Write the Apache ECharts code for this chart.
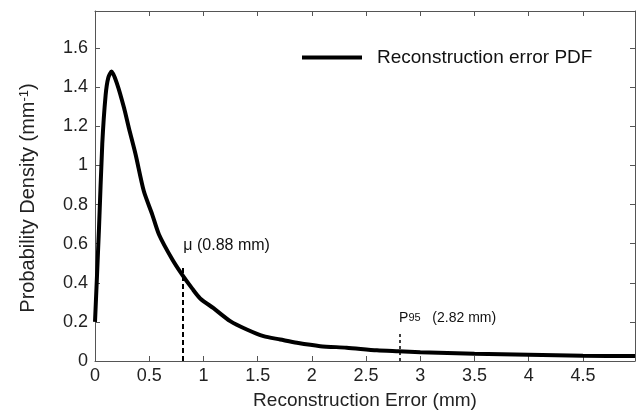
<!DOCTYPE html>
<html>
<head>
<meta charset="utf-8">
<script src="https://cdn.jsdelivr.net/npm/echarts@6/dist/echarts.min.js"></script>
<style>
  html, body { margin: 0; padding: 0; background: #fff; }
  #chart { width: 638px; height: 416px; }
</style>
</head>
<body>
<div id="chart"></div>
<script>
// reconstruction error (mm) vs probability density
const errX = [0, 0.037, 0.067, 0.098, 0.123, 0.153, 0.205, 0.267, 0.313, 0.374, 0.45, 0.528, 0.59, 0.712, 0.805, 0.897, 0.97, 1.093, 1.247, 1.40, 1.554, 1.708, 1.862, 2.077, 2.32, 2.6, 2.8, 3.0, 3.5, 4.0, 4.5, 4.98]
const pdfY = [0.2, 0.68, 1.11, 1.36, 1.45, 1.48, 1.415, 1.296, 1.19, 1.057, 0.869, 0.749, 0.647, 0.52, 0.44, 0.37, 0.32, 0.27, 0.204, 0.161, 0.127, 0.11, 0.093, 0.076, 0.068, 0.055, 0.05, 0.045, 0.037, 0.032, 0.027, 0.025]

// marker lines: [x, top of dashed line]
const meanLine = [0.81, 0.49]
const p95Line = [2.81, 0.14]
const meanLabel = 'μ (0.88 mm)'
const p95Label = ['P', '95', '(2.82 mm)']
// label anchors [x, y]
const meanLabelAt = [0.81, 0.59]
const p95LabelAt = [2.8, 0.22]

const xTicks = { min: 0, max: 4.98, interval: 0.5 }
const yTicks = { min: 0, max: 1.79, interval: 0.2 }

const AXIS_COLOR = '#555'
const FONT = 'Liberation Sans, Arial, sans-serif'

const chart = echarts.init(document.getElementById('chart'))

function boxAxis(extra) {
  return Object.assign({
    type: 'value',
    axisLine: { show: true, onZero: false, lineStyle: { color: AXIS_COLOR, width: 1 } },
    axisTick: { show: true, inside: true, length: 5, lineStyle: { color: AXIS_COLOR } },
    splitLine: { show: false },
  }, extra)
}

const points = errX.map((x, i) => [x, pdfY[i]])

chart.setOption({
  backgroundColor: '#fff',
  animation: false,
  textStyle: { fontFamily: FONT },
  grid: { left: 95, right: 3, top: 11, bottom: 55 },
  legend: {
    left: 297,
    top: 43,
    icon: 'rect',
    itemWidth: 60,
    itemHeight: 4,
    itemGap: 0,
    data: ['Reconstruction error PDF'],
    textStyle: { fontSize: 19, color: '#111', fontFamily: FONT, padding: [0, 0, 0, 10] },
  },
  xAxis: [
    boxAxis({
      ...xTicks,
      position: 'bottom',
      name: 'Reconstruction Error (mm)',
      nameLocation: 'middle',
      nameGap: 30,
      nameTextStyle: { fontSize: 19, color: '#222', fontFamily: FONT },
      axisLabel: {
        fontSize: 18, color: '#222', margin: 6, fontFamily: FONT,
        showMaxLabel: false,
      },
    }),
    boxAxis({ ...xTicks, position: 'top', axisLabel: { show: false } }),
  ],
  yAxis: [
    boxAxis({
      ...yTicks,
      position: 'left',
      name: '{a|Probability Density (mm}{s|-1}{a|)}',
      nameLocation: 'middle',
      nameGap: 56,
      nameTextStyle: {
        color: '#222',
        padding: [0, 24, 0, 0],
        rich: {
          a: { fontSize: 20, color: '#222', fontFamily: FONT },
          s: { fontSize: 13, color: '#222', fontFamily: FONT, verticalAlign: 'top', padding: [0, 0, 8, 0] },
        },
      },
      axisLabel: {
        fontSize: 18, color: '#222', margin: 7, fontFamily: FONT,
        showMaxLabel: false,
      },
    }),
    boxAxis({ ...yTicks, position: 'right', axisLabel: { show: false } }),
  ],
  series: [
    {
      name: 'Reconstruction error PDF',
      type: 'line',
      data: points,
      symbol: 'none',
      smooth: 0.25,
      lineStyle: { color: '#000', width: 4 },
      itemStyle: { color: '#000' },
      markLine: {
        silent: true,
        symbol: 'none',
        label: { show: false },
        data: [
          [
            { coord: [meanLine[0], 0], lineStyle: { type: [5, 3], width: 2, color: '#000' } },
            { coord: [meanLine[0], meanLine[1]] },
          ],
          [
            { coord: [p95Line[0], 0], lineStyle: { type: [3, 3], width: 1.5, color: '#000' } },
            { coord: [p95Line[0], p95Line[1]] },
          ],
        ],
      },
      markPoint: {
        silent: true,
        symbol: 'circle',
        symbolSize: 1,
        itemStyle: { color: 'rgba(0,0,0,0)' },
        data: [
          {
            coord: meanLabelAt,
            label: {
              show: true, position: 'right', distance: 0,
              formatter: meanLabel, fontSize: 16, color: '#111', fontFamily: FONT,
            },
          },
          {
            coord: p95LabelAt,
            label: {
              show: true, position: 'right', distance: 0,
              formatter: '{p|' + p95Label[0] + '}{n|' + p95Label[1] + '}{p|   ' + p95Label[2] + '}',
              rich: {
                p: { fontSize: 14, color: '#111', fontFamily: FONT },
                n: { fontSize: 11, color: '#111', fontFamily: FONT },
              },
            },
          },
        ],
      },
    },
  ],
})
</script>
</body>
</html>
